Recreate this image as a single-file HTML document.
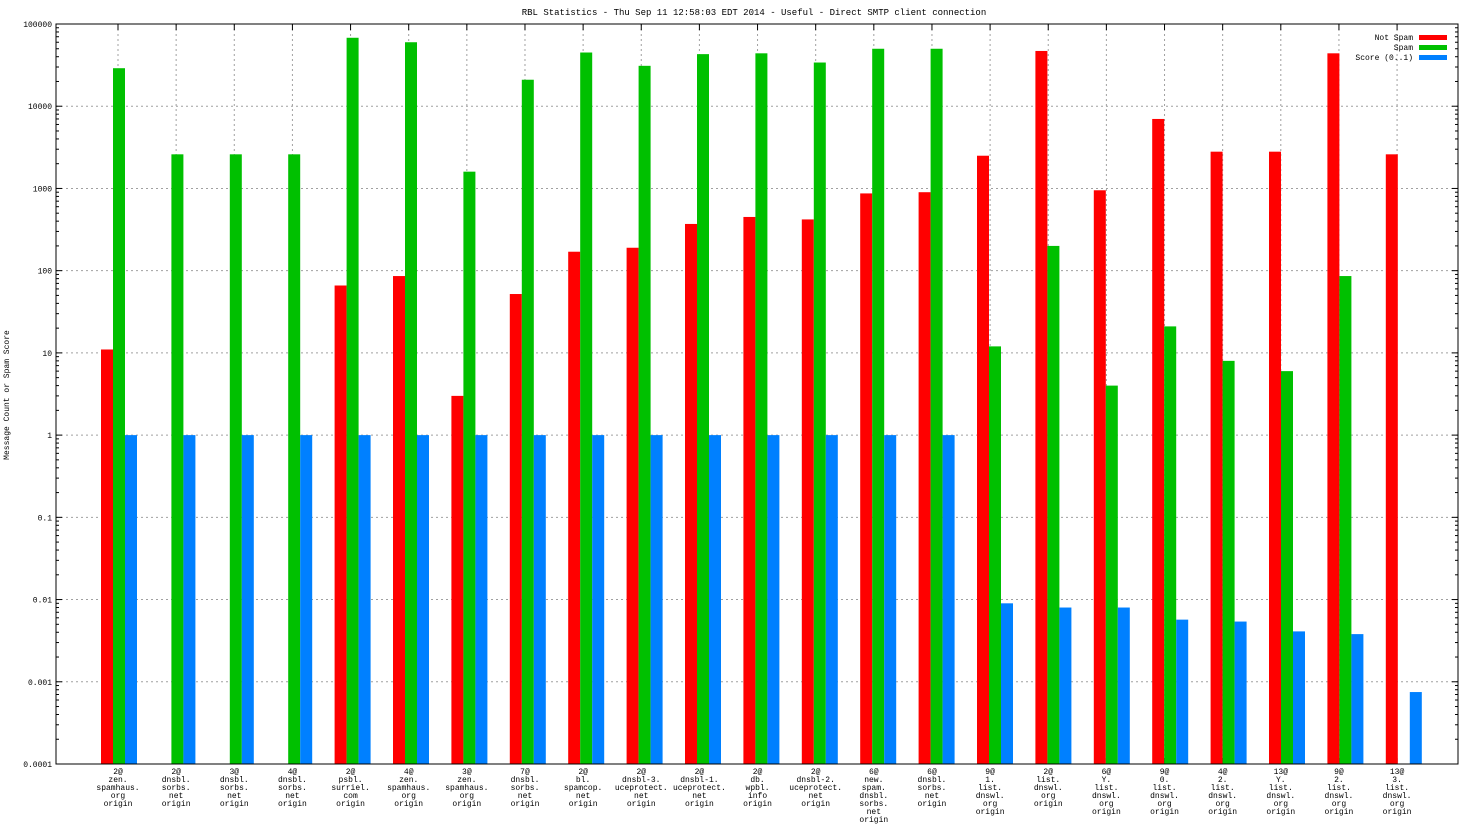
<!DOCTYPE html>
<html><head><meta charset="utf-8"><style>
body{margin:0;background:#fff;}
svg{display:block;font-family:"Liberation Mono","DejaVu Sans Mono",monospace;}
</style></head><body>
<svg id="chart" width="1472" height="828" xmlns="http://www.w3.org/2000/svg"></svg>
<script>
const labels=[
["2@","zen.","spamhaus.","org","origin"],["2@","dnsbl.","sorbs.","net","origin"],["3@","dnsbl.","sorbs.","net","origin"],["4@","dnsbl.","sorbs.","net","origin"],
["2@","psbl.","surriel.","com","origin"],["4@","zen.","spamhaus.","org","origin"],["3@","zen.","spamhaus.","org","origin"],["7@","dnsbl.","sorbs.","net","origin"],
["2@","bl.","spamcop.","net","origin"],["2@","dnsbl-3.","uceprotect.","net","origin"],["2@","dnsbl-1.","uceprotect.","net","origin"],["2@","db.","wpbl.","info","origin"],
["2@","dnsbl-2.","uceprotect.","net","origin"],["6@","new.","spam.","dnsbl.","sorbs.","net","origin"],["6@","dnsbl.","sorbs.","net","origin"],
["9@","1.","list.","dnswl.","org","origin"],["2@","list.","dnswl.","org","origin"],["6@","Y.","list.","dnswl.","org","origin"],["9@","0.","list.","dnswl.","org","origin"],
["4@","2.","list.","dnswl.","org","origin"],["13@","Y.","list.","dnswl.","org","origin"],["9@","2.","list.","dnswl.","org","origin"],["13@","3.","list.","dnswl.","org","origin"]];
const notSpam=[11,0,0,0,66,86,3,52,170,190,370,450,420,870,900,2500,47000,950,7000,2800,2800,44000,2600];
const spam=[29000,2600,2600,2600,68000,60000,1600,21000,45000,31000,43000,44000,34000,50000,50000,12,200,4,21,8,6,86,0];
const score=[1,1,1,1,1,1,1,1,1,1,1,1,1,1,1,0.009,0.008,0.008,0.0057,0.0054,0.0041,0.0038,0.00075];
const yTicks=["0.0001","0.001","0.01","0.1","1","10","100","1000","10000","100000"];
const series=[{name:"Not Spam",data:notSpam,color:"#ff0000"},{name:"Spam",data:spam,color:"#00c000"},{name:"Score (0..1)",data:score,color:"#0080ff"}];

const NS="http://www.w3.org/2000/svg",svg=document.getElementById('chart');
const L=56,R=1458,T=24,B=764,yMin=-4,yMax=5;
const y=v=>B-(Math.log10(v)-yMin)/(yMax-yMin)*(B-T);
const n=labels.length;
const xc=i=>119+i*58.4;
const xl=i=>118+i*58.14;
function el(t,a,p){const e=document.createElementNS(NS,t);for(const k in a)e.setAttribute(k,a[k]);(p||svg).appendChild(e);return e;}
let t=el('text',{x:754,y:15,'font-size':9,'text-anchor':'middle',fill:'#000'});t.textContent="RBL Statistics - Thu Sep 11 12:58:03 EDT 2014 - Useful - Direct SMTP client connection";

t=el('text',{x:9,y:395,'font-size':8,'text-anchor':'middle',transform:'rotate(-90 9 395)',fill:'#000'});t.textContent="Message Count or Spam Score";

yTicks.forEach(s=>{const v=parseFloat(s),yy=y(v);
 if(v>1e-4&&v<1e5){const g=el('line',{x1:L,x2:R,y1:yy,y2:yy,stroke:'#a0a0a0','stroke-dasharray':'2,3','stroke-width':1});}
 el('line',{x1:L,x2:L+6,y1:yy,y2:yy,stroke:'#000'});el('line',{x1:R-6,x2:R,y1:yy,y2:yy,stroke:'#000'});
 const tx=el('text',{x:L-4,y:yy+3,'font-size':8,'text-anchor':'end',fill:'#000'});tx.textContent=s;
 
 if(v<1e5)for(let k=2;k<10;k++){const my=y(v*k);el('line',{x1:L,x2:L+3,y1:my,y2:my,stroke:'#000'});el('line',{x1:R-3,x2:R,y1:my,y2:my,stroke:'#000'});}
});
for(let i=0;i<n;i++){const xx=xl(i);
 const g=el('line',{x1:xx,x2:xx,y1:T,y2:B,stroke:'#a0a0a0','stroke-dasharray':'2,3'});
 el('line',{x1:xx,x2:xx,y1:B-6,y2:B,stroke:'#000'});el('line',{x1:xx,x2:xx,y1:T,y2:T+6,stroke:'#000'});
 const tx=el('text',{'font-size':8,'text-anchor':'middle',fill:'#000'});
 labels[i].forEach((s,j)=>{const ts=el('tspan',{x:xx,y:774+j*8},tx);ts.textContent=s;});
}
const bw=12;
series.forEach((s,si)=>{s.data.forEach((v,i)=>{if(!(v>0))return;const yy=Math.max(T,y(v));
 const r=el('rect',{x:xc(i)-18+si*bw,y:yy,width:bw,height:B-yy,fill:s.color});
 });});
const f=el('rect',{x:L,y:T,width:R-L,height:B-T,fill:'none',stroke:'#000'});
series.forEach((s,si)=>{const yy=37+si*10;
 const tx=el('text',{x:1413,y:yy+3,'font-size':8,'text-anchor':'end',fill:'#000'});tx.textContent=s.name;
 
 const r=el('rect',{x:1419,y:yy-2,width:28,height:5,fill:s.color});});
</script>
</body></html>
